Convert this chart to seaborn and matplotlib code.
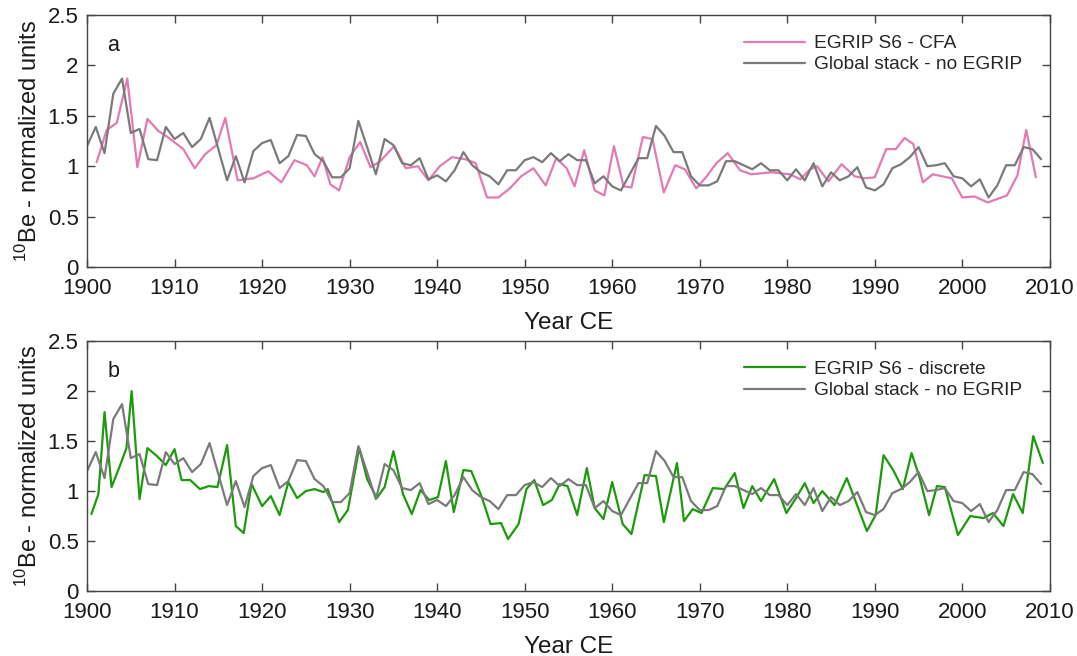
import numpy as np
import pandas as pd
import matplotlib
matplotlib.use("Agg")
import matplotlib.pyplot as plt
import seaborn as sns

# global stack (no EGRIP), annual 1900-2009
stack_years = np.arange(1900, 2010)
stack_vals = [
    1.20, 1.39, 1.13, 1.72, 1.87, 1.33, 1.37, 1.07, 1.06, 1.39,
    1.27, 1.33, 1.19, 1.27, 1.48, 1.17, 0.86, 1.10, 0.84, 1.15,
    1.23, 1.26, 1.03, 1.10, 1.31, 1.30, 1.12, 1.05, 0.89, 0.89,
    0.98, 1.45, 1.19, 0.92, 1.27, 1.21, 1.03, 1.01, 1.08, 0.87,
    0.91, 0.85, 0.96, 1.14, 1.01, 0.94, 0.90, 0.82, 0.96, 0.96,
    1.06, 1.09, 1.04, 1.13, 1.05, 1.12, 1.06, 1.06, 0.83, 0.90,
    0.80, 0.76, 0.92, 1.08, 1.08, 1.40, 1.30, 1.14, 1.14, 0.90,
    0.81, 0.81, 0.85, 1.05, 1.05, 1.01, 0.97, 1.03, 0.96, 0.96,
    0.86, 0.97, 0.86, 1.03, 0.80, 0.94, 0.86, 0.90, 0.99, 0.79,
    0.76, 0.82, 0.98, 1.02, 1.09, 1.19, 1.00, 1.01, 1.03, 0.90,
    0.88, 0.80, 0.87, 0.69, 0.81, 1.01, 1.01, 1.19, 1.17, 1.07,
]

# EGRIP S6 - CFA
cfa_years = [
    1901.1, 1902.25, 1903.4, 1904.6, 1905.75, 1906.9, 1908.15, 1909.2, 1911.0, 1912.3,
    1913.5, 1914.8, 1915.8, 1917.2, 1918.1, 1919.0, 1920.7, 1922.2, 1923.7, 1925.1,
    1926.0, 1926.9, 1927.8, 1928.8, 1930.0, 1931.2, 1932.4, 1933.5, 1935.1, 1936.4,
    1937.8, 1939.0, 1940.3, 1941.7, 1943.2, 1944.4, 1945.7, 1947.0, 1948.3, 1949.6,
    1951.0, 1952.4, 1953.6, 1954.8, 1955.7, 1956.8, 1958.0, 1959.1, 1960.2, 1961.3,
    1962.2, 1963.5, 1964.6, 1965.9, 1967.2, 1968.3, 1969.6, 1970.8, 1971.9, 1973.2,
    1974.6, 1975.9, 1978.2, 1980.3, 1981.5, 1982.6, 1983.4, 1984.7, 1986.2, 1987.7,
    1988.8, 1990.0, 1991.3, 1992.4, 1993.4, 1994.4, 1995.5, 1996.6, 1998.8, 2000.0,
    2001.4, 2002.9, 2005.1, 2006.3, 2007.3, 2008.4,
]
cfa_vals = [
    1.04, 1.36, 1.43, 1.87, 0.99, 1.47, 1.35, 1.29, 1.17, 0.98,
    1.12, 1.21, 1.48, 0.86, 0.87, 0.88, 0.95, 0.84, 1.06, 1.01,
    0.90, 1.09, 0.82, 0.76, 1.09, 1.24, 0.99, 1.05, 1.20, 0.98,
    1.00, 0.86, 1.00, 1.09, 1.07, 1.03, 0.69, 0.69, 0.78, 0.90,
    0.98, 0.81, 1.08, 0.98, 0.80, 1.16, 0.76, 0.71, 1.20, 0.80,
    0.79, 1.29, 1.27, 0.74, 1.01, 0.97, 0.78, 0.90, 1.03, 1.13,
    0.96, 0.92, 0.94, 0.92, 0.87, 0.97, 1.00, 0.85, 1.02, 0.90,
    0.88, 0.89, 1.17, 1.17, 1.28, 1.22, 0.84, 0.92, 0.88, 0.69,
    0.70, 0.64, 0.71, 0.91, 1.36, 0.89,
]

# EGRIP S6 - discrete
disc_years = [
    1900.5, 1901.3, 1902.0, 1902.8, 1903.7, 1904.5, 1905.1, 1906.0, 1906.9, 1908.0,
    1909.0, 1910.0, 1910.8, 1911.8, 1912.9, 1913.9, 1914.9, 1916.0, 1917.0, 1917.9,
    1918.8, 1920.0, 1921.0, 1922.0, 1923.0, 1924.0, 1925.0, 1926.0, 1927.0, 1927.5,
    1928.8, 1929.8, 1931.1, 1932.0, 1933.1, 1934.0, 1935.0, 1936.1, 1937.1, 1938.1,
    1939.1, 1940.1, 1941.0, 1941.9, 1943.0, 1943.9, 1945.1, 1946.1, 1947.3, 1948.1,
    1949.3, 1950.2, 1951.1, 1952.1, 1953.1, 1954.0, 1954.9, 1956.0, 1957.1, 1958.0,
    1959.0, 1960.0, 1961.2, 1962.2, 1963.7, 1965.0, 1965.9, 1967.4, 1968.2, 1969.2,
    1970.2, 1971.5, 1972.8, 1974.0, 1975.0, 1976.0, 1977.0, 1978.5, 1979.9, 1981.0,
    1982.0, 1983.0, 1984.0, 1985.4, 1986.8, 1989.1, 1990.1, 1991.0, 1992.1, 1993.2,
    1994.2, 1995.1, 1996.2, 1997.1, 1998.0, 1999.5, 2000.9, 2002.4, 2003.5, 2004.7,
    2005.8, 2006.9, 2008.1, 2009.2,
]
disc_vals = [
    0.77, 0.97, 1.79, 1.04, 1.24, 1.43, 2.00, 0.92, 1.43, 1.35,
    1.26, 1.42, 1.11, 1.11, 1.02, 1.05, 1.04, 1.46, 0.65, 0.58,
    1.07, 0.85, 0.95, 0.76, 1.09, 0.93, 1.00, 1.02, 0.99, 1.02,
    0.69, 0.81, 1.43, 1.12, 0.93, 1.04, 1.40, 0.97, 0.77, 1.01,
    0.91, 0.94, 1.30, 0.79, 1.21, 1.20, 0.94, 0.67, 0.68, 0.52,
    0.67, 1.02, 1.11, 0.86, 0.91, 1.07, 1.05, 0.76, 1.23, 0.83,
    0.72, 1.09, 0.67, 0.57, 1.16, 1.15, 0.69, 1.28, 0.70, 0.82,
    0.78, 1.03, 1.02, 1.18, 0.83, 1.05, 0.90, 1.12, 0.78, 0.93,
    1.08, 0.88, 1.00, 0.86, 1.13, 0.60, 0.76, 1.36, 1.21, 1.02,
    1.38, 1.14, 0.76, 1.05, 1.04, 0.56, 0.75, 0.73, 0.78, 0.65,
    0.97, 0.78, 1.55, 1.28,
]

xticks = list(range(1900, 2011, 10))
yticks = [0, 0.5, 1, 1.5, 2, 2.5]
ytick_labels = ["0", "0.5", "1", "1.5", "2", "2.5"]

sns.set_style("ticks")
plt.rcParams["font.family"] = ["Liberation Sans", "DejaVu Sans"]
plt.rcParams["mathtext.fontset"] = "custom"
plt.rcParams["mathtext.rm"] = "Liberation Sans"

pink = "#e47ab3"
gray = "#7a7a7a"
green = "#1c9a0c"
spine = "#454545"
txt = "#1a1a1a"

fig = plt.figure(figsize=(10.77, 6.56), dpi=100)
ax_a = fig.add_axes([0.0808, 0.593, 0.894, 0.384])
ax_b = fig.add_axes([0.0808, 0.099, 0.894, 0.381])

stack = pd.DataFrame({"year": stack_years, "val": stack_vals})
cfa = pd.DataFrame({"year": cfa_years, "val": cfa_vals})
disc = pd.DataFrame({"year": disc_years, "val": disc_vals})

sns.lineplot(data=cfa, x="year", y="val", ax=ax_a, color=pink, lw=1.6,
             label="EGRIP S6 - CFA")
sns.lineplot(data=stack, x="year", y="val", ax=ax_a, color=gray, lw=1.6,
             label="Global stack - no EGRIP")
sns.lineplot(data=disc, x="year", y="val", ax=ax_b, color=green, lw=1.6,
             label="EGRIP S6 - discrete")
sns.lineplot(data=stack, x="year", y="val", ax=ax_b, color=gray, lw=1.6,
             label="Global stack - no EGRIP")

for ax, letter in [(ax_a, "a"), (ax_b, "b")]:
    ax.set_xlim(1900, 2010)
    ax.set_ylim(0, 2.5)
    ax.set_xticks(xticks)
    ax.set_yticks(yticks)
    ax.set_yticklabels(ytick_labels)
    ax.tick_params(direction="in", length=6, width=1, colors=spine,
                   labelcolor=txt, labelsize=16, top=True, right=True)
    ax.tick_params(axis="x", pad=8)
    ax.tick_params(axis="y", pad=6)
    for s in ax.spines.values():
        s.set_visible(True)
        s.set_color(spine)
        s.set_linewidth(1.0)
    ax.set_xlabel("Year CE", fontsize=17.5, color=txt, labelpad=9)
    ax.set_ylabel(r"$^{10}$Be - normalized units", fontsize=17, color=txt,
                  labelpad=4)
    ax.text(0.021, 0.88, letter, transform=ax.transAxes, fontsize=15.5,
            color=txt, va="center")
    ax.legend(loc="upper right", frameon=False, fontsize=13.8,
              handlelength=3.2, handletextpad=0.47, labelspacing=0.2,
              borderaxespad=0.3, bbox_to_anchor=(0.985, 0.975))

fig.savefig("out.png", dpi=100)
